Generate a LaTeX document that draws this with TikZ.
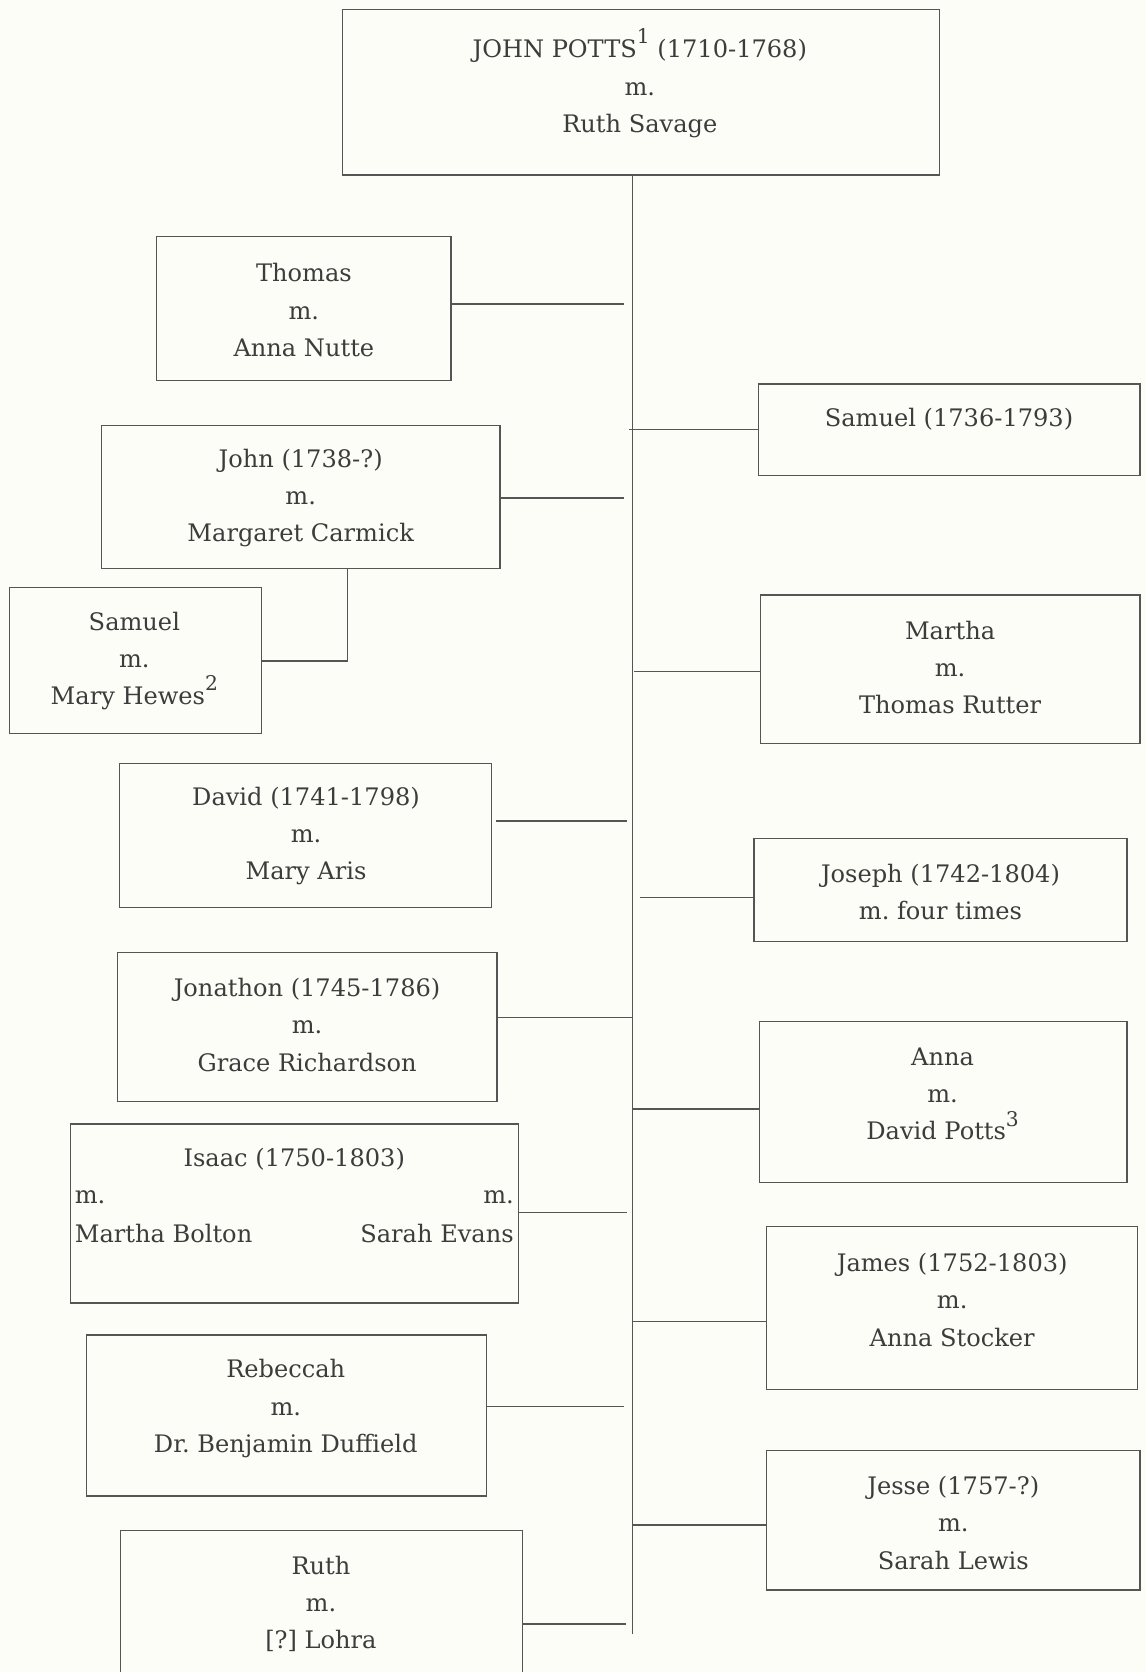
\documentclass[tikz,border=0pt]{standalone}
\usepackage{fontspec}
\setmainfont{DejaVu Serif}
\frenchspacing
\definecolor{bgcol}{HTML}{FDFDF7}
\definecolor{linecol}{HTML}{555555}
\definecolor{textcol}{HTML}{3C3C3C}
\newcommand\supnum[1]{\raisebox{0.58em}{\fontsize{19}{19}\selectfont #1}}
\tikzset{
  famBox/.style={draw=linecol, line width=1.2pt, rectangle, inner sep=0pt},
  txt/.style={align=center, font=\fontsize{22.6}{35}\selectfont\frenchspacing, text=textcol, inner sep=0pt},
  conn/.style={draw=linecol, line width=1.2pt}
}
\begin{document}
\begin{tikzpicture}[x=1pt, y=-1pt]
\useasboundingbox (0,0) rectangle (1075,1568);
\fill[bgcol] (0,0) rectangle (1075,1568);
\clip (0,0) rectangle (1075,1568);

% boxes
\node[famBox, minimum width=560pt, minimum height=155pt] (top) at (601,86.5) {};
\node[famBox, minimum width=276pt, minimum height=135pt] (thomas) at (285,289.5) {};
\node[famBox, minimum width=358pt, minimum height=86pt] (samR) at (890,403) {};
\node[famBox, minimum width=374pt, minimum height=134pt] (john) at (282,466) {};
\node[famBox, minimum width=236pt, minimum height=137pt] (samL) at (127,619.5) {};
\node[famBox, minimum width=356pt, minimum height=139pt] (martha) at (891,627.5) {};
\node[famBox, minimum width=349pt, minimum height=135pt] (david) at (286.5,783.5) {};
\node[famBox, minimum width=350pt, minimum height=97pt] (joseph) at (882,834.5) {};
\node[famBox, minimum width=356pt, minimum height=140pt] (jon) at (288,963) {};
\node[famBox, minimum width=345pt, minimum height=151pt] (anna) at (884.5,1033.5) {};
\node[famBox, minimum width=420pt, minimum height=168pt] (isaac) at (276,1138) {};
\node[famBox, minimum width=348pt, minimum height=153pt] (james) at (893,1226.5) {};
\node[famBox, minimum width=375pt, minimum height=151pt] (rebeccah) at (268.5,1327.5) {};
\node[famBox, minimum width=350pt, minimum height=131pt] (jesse) at (894,1425.5) {};
\node[famBox, minimum width=377pt, minimum height=165pt] (ruth) at (301.5,1517.5) {};

% texts
\node[txt] at (600,78) {JOHN POTTS\supnum{1} (1710-1768)\\m.\\Ruth Savage};
\node[txt] at (285,291) {Thomas\\m.\\Anna Nutte};
\node[txt] at (890,393) {Samuel (1736-1793)};
\node[txt] at (282,467) {John (1738-?)\\m.\\Margaret Carmick};
\node[txt] at (126,620) {Samuel\\m.\\Mary Hewes\supnum{2}};
\node[txt] at (891,626) {Martha\\m.\\Thomas Rutter};
\node[txt] at (287,784) {David (1741-1798)\\m.\\Mary Aris};
\node[txt] at (882,836.5) {Joseph (1742-1804)\\m. four times};
\node[txt] at (288,961) {Jonathon (1745-1786)\\m.\\Grace Richardson};
\node[txt] at (884,1026) {Anna\\m.\\David Potts\supnum{3}};
\node[txt] at (276,1087) {Isaac (1750-1803)};
\node[txt, anchor=west] at (70,1123) {m.};
\node[txt, anchor=east] at (482,1123) {m.};
\node[txt, anchor=west] at (70,1157) {Martha Bolton};
\node[txt, anchor=east] at (482,1157) {Sarah Evans};
\node[txt] at (893,1219) {James (1752-1803)\\m.\\Anna Stocker};
\node[txt] at (268,1321) {Rebeccah\\m.\\Dr. Benjamin Duffield};
\node[txt] at (894,1428) {Jesse (1757-?)\\m.\\Sarah Lewis};
\node[txt] at (301,1504) {Ruth\\m.\\{[?]} Lohra};

% trunk
\coordinate (trTop) at (593,164);
\coordinate (trEnd) at (593,1532);
\draw[conn] (top.south -| trTop) -- (trEnd);

% connector end points on the trunk
\coordinate (cThomas) at (585,285);
\coordinate (cSamR) at (590,403);
\coordinate (cJohn) at (585,467);
\coordinate (cKnee) at (326,620);
\coordinate (cMartha) at (595,630);
\coordinate (cDavid) at (588,770);
\coordinate (cJoseph) at (600,842);
\coordinate (cJon) at (593,954);
\coordinate (cAnna) at (593,1040);
\coordinate (cIsaac) at (588,1137);
\coordinate (cJames) at (593,1239);
\coordinate (cRebeccah) at (585,1319);
\coordinate (cJesse) at (593,1430);
\coordinate (cRuth) at (587,1523);

\draw[conn] (thomas.east |- cThomas) -- (cThomas);
\draw[conn] (cSamR) -- (samR.west |- cSamR);
\draw[conn] (john.east |- cJohn) -- (cJohn);
\draw[conn] (john.south -| cKnee) |- (samL.east |- cKnee);
\draw[conn] (cMartha) -- (martha.west |- cMartha);
\draw[conn, shorten <=4pt] (david.east |- cDavid) -- (cDavid);
\draw[conn] (cJoseph) -- (joseph.west |- cJoseph);
\draw[conn] (jon.east |- cJon) -- (cJon);
\draw[conn] (cAnna) -- (anna.west |- cAnna);
\draw[conn] (isaac.east |- cIsaac) -- (cIsaac);
\draw[conn] (cJames) -- (james.west |- cJames);
\draw[conn] (rebeccah.east |- cRebeccah) -- (cRebeccah);
\draw[conn] (cJesse) -- (jesse.west |- cJesse);
\draw[conn] (ruth.east |- cRuth) -- (cRuth);
\end{tikzpicture}
\end{document}
